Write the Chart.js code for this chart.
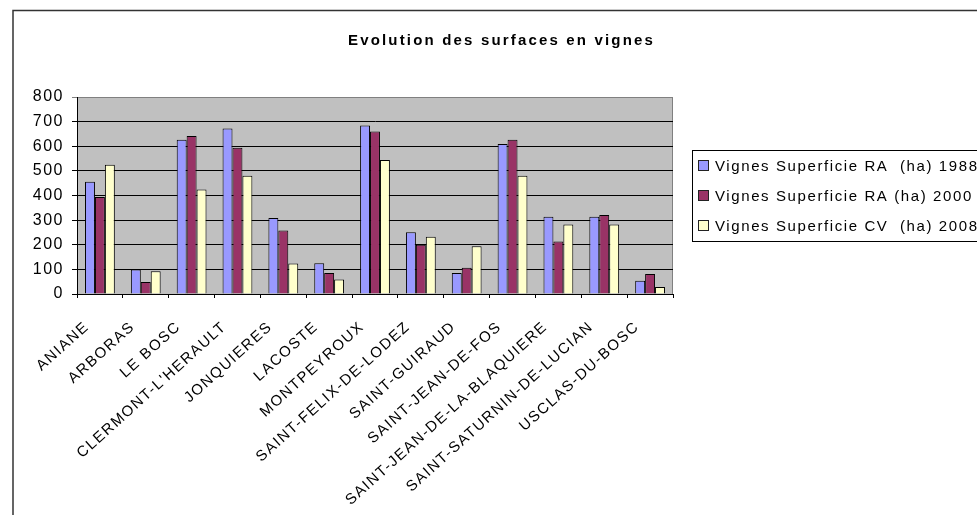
<!DOCTYPE html>
<html>
<head>
<meta charset="utf-8">
<title>Evolution des surfaces en vignes</title>
<script src="https://cdn.jsdelivr.net/npm/chart.js@4"></script>
<style>
  html, body { margin: 0; padding: 0; background: #fff; }
</style>
</head>
<body>
<canvas id="vignesChart" width="977" height="515"></canvas>
<script>
// Communes and vine surfaces (ha) per census
const communes = [
  'ANIANE', 'ARBORAS', 'LE BOSC', "CLERMONT-L'HERAULT", 'JONQUIERES', 'LACOSTE',
  'MONTPEYROUX', 'SAINT-FELIX-DE-LODEZ', 'SAINT-GUIRAUD', 'SAINT-JEAN-DE-FOS',
  'SAINT-JEAN-DE-LA-BLAQUIERE', 'SAINT-SATURNIN-DE-LUCIAN', 'USCLAS-DU-BOSC'
];
const surfRA1988 = [456, 99, 626, 672, 309, 125, 684, 251, 85, 609, 314, 314, 54];
const surfRA2000 = [394, 49, 642, 594, 258, 85, 660, 200, 107, 626, 213, 321, 81];
const surfCV2008 = [525, 92, 424, 480, 124, 59, 544, 232, 194, 480, 282, 282, 28];

const seriesLabels = [
  'Vignes Superficie RA  (ha) 1988',
  'Vignes Superficie RA (ha) 2000',
  'Vignes Superficie CV  (ha) 2008'
];
const seriesColors = ['#9999FF', '#993366', '#FFFFCC'];
const yTicks = [0, 100, 200, 300, 400, 500, 600, 700, 800];
const chartTitle = 'Evolution des surfaces en vignes';

Chart.defaults.font.family = '"Liberation Sans", Arial, sans-serif';
Chart.defaults.color = '#000';

// grey plot area, outer frame, title and boxed legend
const excelLook = {
  id: 'excelLook',
  beforeLayout(chart) {
    chart.ctx.letterSpacing = '1.5px';
  },
  beforeDraw(chart) {
    const { ctx, chartArea: a } = chart;
    ctx.letterSpacing = '1.5px';
    ctx.save();
    ctx.fillStyle = '#C0C0C0';
    ctx.fillRect(a.left, a.top, a.right - a.left, a.bottom - a.top);
    ctx.strokeStyle = '#808080';
    ctx.lineWidth = 1;
    ctx.strokeRect(a.left + 0.5, a.top + 0.5, a.right - a.left - 1, a.bottom - a.top);
    ctx.strokeStyle = '#333';
    ctx.lineWidth = 1.5;
    ctx.strokeRect(13, 10.5, chart.width, chart.height);
    ctx.restore();
  },
  afterDraw(chart) {
    const { ctx, chartArea: a } = chart;
    ctx.save();
    ctx.fillStyle = '#000';
    ctx.textAlign = 'left';
    ctx.textBaseline = 'middle';
    // narrow bold face, spread out to a fixed width
    ctx.font = 'bold 15px "Liberation Sans Narrow", "Liberation Sans", Arial, sans-serif';
    ctx.letterSpacing = '0px';
    const natural = ctx.measureText(chartTitle).width;
    const spread = Math.max(0, (305 - natural) / (chartTitle.length - 1));
    ctx.letterSpacing = spread.toFixed(2) + 'px';
    ctx.fillText(chartTitle, 348, 41);

    const cy = Math.round((a.top + a.bottom) / 2);
    const lx = Math.round(a.right) + 19;
    ctx.letterSpacing = '1.6px';
    ctx.lineWidth = 1;
    ctx.strokeStyle = '#000';
    ctx.strokeRect(lx + 0.5, cy - 45.5, 400, 91);
    ctx.font = '15px "Liberation Sans", Arial, sans-serif';
    chart.data.datasets.forEach((ds, i) => {
      const y = cy + (i - 1) * 30;
      ctx.fillStyle = ds.backgroundColor;
      ctx.fillRect(lx + 7, y - 5, 9, 9);
      ctx.strokeStyle = '#222';
      ctx.strokeRect(lx + 6.5, y - 5.5, 10, 10);
      ctx.fillStyle = '#000';
      ctx.fillText(ds.label, lx + 23, y + 1);
    });
    ctx.restore();
  }
};

new Chart(document.getElementById('vignesChart'), {
  type: 'bar',
  data: {
    labels: communes,
    datasets: [surfRA1988, surfRA2000, surfCV2008].map((values, i) => ({
      label: seriesLabels[i],
      data: values,
      backgroundColor: seriesColors[i],
      borderColor: '#000',
      borderWidth: 1
    }))
  },
  options: {
    responsive: false,
    animation: false,
    layout: { padding: { top: 97, right: 304, left: 0, bottom: 0 } },
    plugins: {
      legend: { display: false },
      title: { display: false },
      tooltip: { enabled: false }
    },
    datasets: {
      bar: { categoryPercentage: 0.65, barPercentage: 1 }
    },
    scales: {
      x: {
        grid: { drawOnChartArea: false, tickLength: 4, color: '#000' },
        border: { color: '#000' },
        ticks: {
          autoSkip: false,
          minRotation: 42,
          maxRotation: 42,
          padding: 20,
          labelOffset: -13,
          font: { size: 15 }
        },
        afterFit(scale) { scale.height = 221; }
      },
      y: {
        min: 0,
        max: 800,
        afterBuildTicks(scale) { scale.ticks = yTicks.map(v => ({ value: v })); },
        grid: {
          tickLength: 5,
          color: ctx => (ctx.tick && ctx.tick.value === 800 ? '#808080' : '#000')
        },
        border: { color: '#000' },
        ticks: { padding: 8, font: { size: 16 } },
        afterFit(scale) { scale.width = 77; }
      }
    }
  },
  plugins: [excelLook]
});
</script>
</body>
</html>
